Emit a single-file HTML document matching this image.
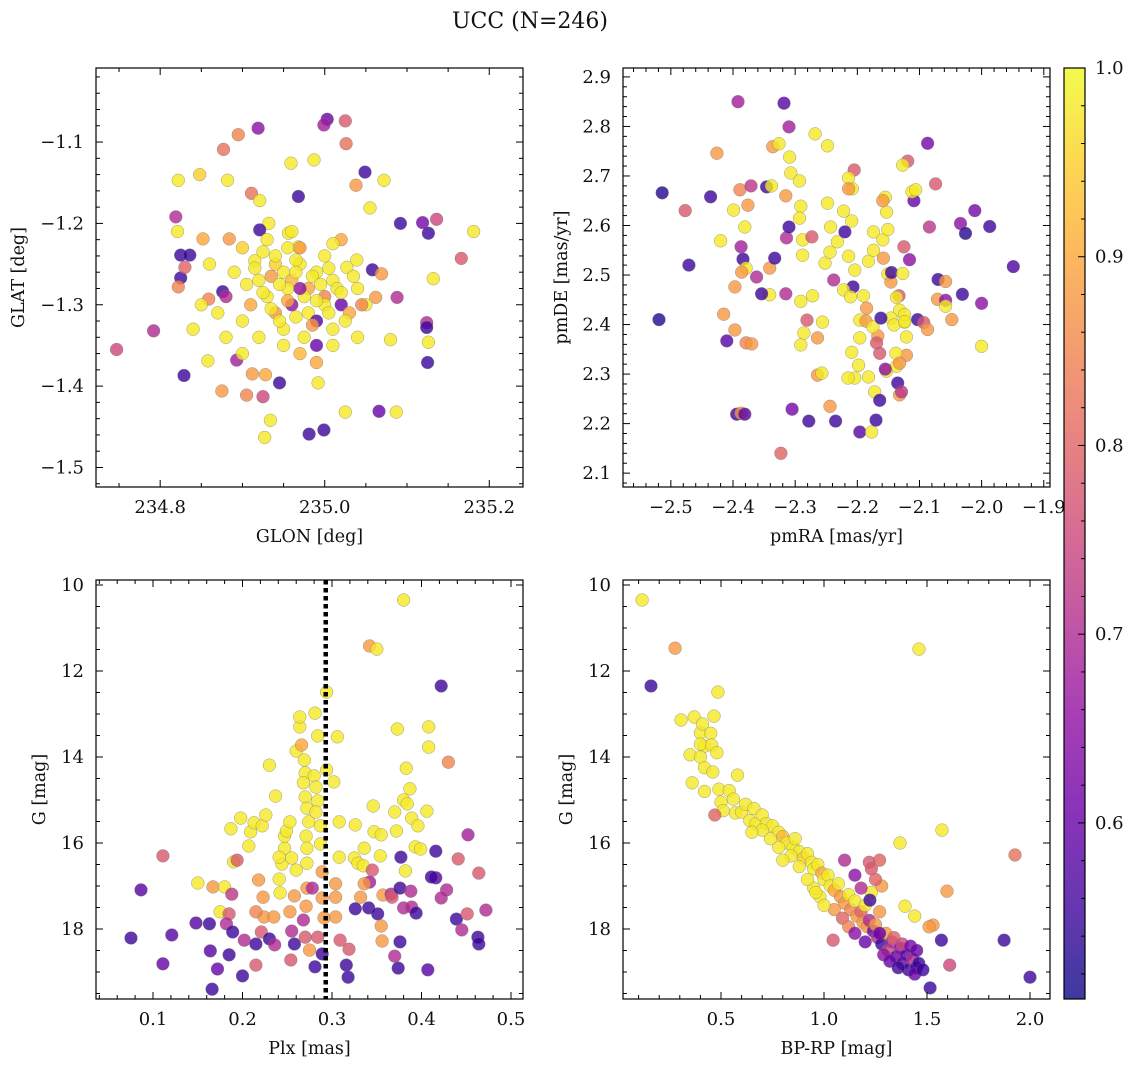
<!DOCTYPE html>
<html>
<head>
<meta charset="utf-8">
<style>
  html,body{margin:0;padding:0;background:#fff;}
  svg{display:block;}
  text{font-family:"DejaVu Serif","Liberation Serif",serif;fill:#111;}
</style>
</head>
<body>
<svg id="fig" width="1136" height="1067" viewBox="0 0 1136 1067" xmlns="http://www.w3.org/2000/svg">
  <rect width="1136" height="1067" fill="#fff"/>
  <text x="530" y="28" font-size="22" text-anchor="middle">UCC (N=246)</text>
</svg>
<script>
// ---------------- DATA ----------------
// Panel 1: GLON / GLAT
const glon = [234.747,234.792,234.829,234.825,234.836,234.825,234.819,234.830,234.822,234.821,234.822,234.848,234.877,234.895,234.919,234.911,234.882,234.852,234.884,234.876,234.859,234.858,234.875,234.905,234.925,234.934,234.927,234.945,234.893,234.912,234.928,234.981,234.999,234.992,234.990,235.025,235.066,235.087,235.003,234.999,235.025,235.026,234.987,234.959,235.049,235.072,235.055,235.038,235.092,235.119,235.136,235.126,235.166,235.181,235.132,235.088,235.124,235.124,235.126,235.125,235.080,235.062,235.058,235.069,235.039,235.027,234.968,234.968,234.921,234.915,234.932,234.956,234.921,
234.94,234.95,234.96,234.97,234.98,234.99,235.00,235.01,235.02,234.93,234.94,234.95,234.96,234.98,234.99,235.01,235.03,235.04,234.92,234.91,234.90,234.89,234.88,234.87,234.86,234.90,234.93,234.97,235.00,235.02,234.95,234.97,234.99,234.92,234.90,235.01,235.04,235.05,234.94,234.96,234.85,234.88,234.84,234.955,234.975,235.015,234.935,235.0,234.965,
234.915,234.925,234.945,234.955,234.965,234.985,234.995,235.005,235.02,235.035,234.945,234.965,234.985,235.005,235.025,234.935,234.975,234.955,234.925,235.01,234.905,234.99,234.97,235.045];
const glat = [-1.355,-1.332,-1.387,-1.239,-1.239,-1.267,-1.192,-1.254,-1.278,-1.210,-1.147,-1.140,-1.109,-1.091,-1.083,-1.163,-1.147,-1.219,-1.219,-1.284,-1.293,-1.369,-1.406,-1.411,-1.413,-1.442,-1.463,-1.396,-1.368,-1.385,-1.386,-1.459,-1.454,-1.396,-1.371,-1.432,-1.431,-1.432,-1.072,-1.079,-1.074,-1.102,-1.122,-1.126,-1.137,-1.147,-1.181,-1.153,-1.200,-1.199,-1.195,-1.212,-1.243,-1.210,-1.268,-1.291,-1.322,-1.328,-1.346,-1.371,-1.343,-1.291,-1.257,-1.262,-1.245,-1.254,-1.167,-1.229,-1.172,-1.246,-1.200,-1.212,-1.208,
-1.25,-1.26,-1.27,-1.25,-1.28,-1.26,-1.29,-1.27,-1.30,-1.29,-1.31,-1.33,-1.30,-1.31,-1.32,-1.33,-1.31,-1.28,-1.27,-1.30,-1.32,-1.26,-1.29,-1.31,-1.25,-1.23,-1.22,-1.23,-1.24,-1.22,-1.35,-1.36,-1.35,-1.34,-1.36,-1.35,-1.34,-1.30,-1.24,-1.21,-1.30,-1.34,-1.33,-1.28,-1.29,-1.28,-1.265,-1.30,-1.245,
-1.255,-1.285,-1.275,-1.295,-1.26,-1.265,-1.275,-1.255,-1.285,-1.265,-1.32,-1.315,-1.325,-1.31,-1.32,-1.305,-1.34,-1.23,-1.235,-1.225,-1.275,-1.295,-1.28,-1.30];
const prob1 = [.75,.70,.55,.55,.55,.55,.70,.80,.85,.98,.98,.95,.82,.85,.65,.82,.98,.90,.88,.55,.85,.98,.88,.85,.75,.98,.98,.55,.68,.88,.90,.55,.55,.98,.90,.98,.60,.98,.60,.68,.78,.82,.98,.98,.55,.98,.98,.88,.55,.62,.75,.55,.78,.98,.98,.70,.70,.55,.98,.55,.98,.88,.55,.88,.98,.98,.55,.98,.98,.98,.98,.98,.55,
.95,.98,.92,.98,.90,.98,.85,.98,.60,.98,.88,.98,.65,.98,.58,.98,.90,.98,.98,.90,.98,.98,.70,.98,.98,.95,.98,.88,.98,.90,.98,.92,.60,.98,.98,.98,.98,.98,.98,.98,.98,.98,.98,.98,.98,.98,.88,.98,.98,
.98,.98,.98,.90,.98,.98,.98,.98,.98,.98,.98,.98,.88,.98,.98,.98,.98,.98,.98,.98,.98,.98,.65,.85];

// Panel 2: pmRA / pmDE
const pmra = [-2.514,-2.519,-2.477,-2.471,-2.426,-2.436,-2.420,-2.410,-2.392,-2.399,-2.389,-2.387,-2.384,-2.379,-2.386,-2.397,-2.415,-2.397,-2.379,-2.370,-2.394,-2.387,-2.381,-2.318,-2.310,-2.305,-2.278,-2.323,-2.381,-2.376,-2.371,-2.362,-2.341,-2.354,-2.341,-2.333,-2.315,-2.314,-2.310,-2.346,-2.338,-2.315,-2.336,-2.326,-2.307,-2.309,-2.268,-2.248,-2.238,-2.293,-2.291,-2.293,-2.288,-2.288,-2.291,-2.291,-2.286,-2.273,-2.252,-2.243,-2.248,-2.244,-2.232,-2.220,-2.209,-2.222,-2.214,-2.204,-2.207,-2.222,-2.211,-2.196,-2.190,-2.182,-2.174,-2.174,-2.159,-2.153,-2.158,-2.151,-2.146,-2.133,-2.132,-2.146,-2.186,-2.185,-2.196,-2.209,-2.198,-2.204,-2.215,-2.264,-2.257,-2.264,-2.256,-2.272,-2.281,-2.244,-2.235,-2.196,-2.182,-2.164,-2.167,-2.175,-2.169,-2.172,-2.177,-2.170,-2.164,-2.153,-2.135,-2.132,-2.129,-2.162,-2.124,-2.121,-2.121,-2.137,-2.138,-2.141,-2.208,-2.205,-2.214,-2.214,
-2.087,-2.119,-2.127,-2.074,-2.109,-2.112,-2.106,-2.155,-2.159,-2.151,-2.084,-2.011,-2.034,-2.026,-1.987,-1.949,-2.031,-2.000,-2.125,-2.116,-2.145,-2.127,-2.070,-2.058,-2.137,-2.071,-2.058,-2.058,-2.048,-2.000,-2.124,-2.124,-2.103,-2.093,-2.087,-2.132,-2.155];
const pmde = [2.666,2.41,2.63,2.52,2.746,2.658,2.569,2.367,2.85,2.631,2.672,2.557,2.532,2.514,2.506,2.476,2.421,2.389,2.363,2.361,2.219,2.221,2.219,2.847,2.799,2.229,2.205,2.14,2.597,2.641,2.68,2.496,2.46,2.462,2.514,2.534,2.462,2.575,2.597,2.678,2.68,2.66,2.759,2.765,2.706,2.738,2.785,2.761,2.49,2.69,2.639,2.615,2.571,2.54,2.447,2.359,2.383,2.577,2.524,2.597,2.645,2.546,2.567,2.587,2.609,2.629,2.538,2.51,2.476,2.47,2.456,2.409,2.458,2.528,2.55,2.587,2.571,2.627,2.534,2.502,2.486,2.458,2.429,2.413,2.407,2.433,2.373,2.344,2.318,2.292,2.292,2.298,2.302,2.373,2.405,2.458,2.409,2.235,2.205,2.183,2.294,2.342,2.377,2.395,2.363,2.264,2.183,2.207,2.247,2.306,2.282,2.258,2.264,2.413,2.405,2.375,2.338,2.316,2.342,2.399,2.674,2.712,2.696,2.674,
2.766,2.73,2.722,2.684,2.65,2.668,2.672,2.657,2.65,2.592,2.597,2.63,2.604,2.584,2.598,2.517,2.461,2.443,2.557,2.531,2.505,2.503,2.491,2.487,2.455,2.451,2.449,2.437,2.41,2.356,2.42,2.406,2.41,2.404,2.39,2.322,2.31];
const prob2 = [.53,.53,.78,.55,.88,.55,.98,.58,.68,.98,.85,.68,.55,.98,.88,.88,.88,.88,.85,.88,.55,.88,.58,.58,.68,.62,.55,.80,.98,.88,.72,.70,.98,.55,.88,.55,.70,.70,.55,.55,.98,.88,.88,.98,.98,.98,.98,.98,.70,.98,.98,.98,.98,.98,.98,.98,.98,.78,.98,.98,.98,.98,.98,.55,.98,.98,.98,.98,.55,.98,.98,.98,.98,.98,.98,.98,.98,.98,.88,.98,.88,.78,.98,.98,.88,.88,.98,.98,.98,.98,.98,.88,.98,.88,.98,.98,.78,.88,.55,.58,.98,.78,.88,.98,.78,.98,.98,.55,.55,.98,.55,.88,.72,.55,.98,.98,.88,.98,.98,.98,.98,.78,.98,.88,
.62,.78,.98,.78,.60,.98,.98,.98,.88,.98,.72,.62,.65,.53,.55,.57,.55,.65,.78,.65,.55,.98,.55,.88,.98,.88,.65,.98,.88,.98,.98,.98,.55,.78,.88,.88,.65];

// Panel 3: Plx / G
const plx = [0.0754,0.0866,0.111,0.111,0.121,0.150,0.148,0.163,0.164,0.166,0.172,0.167,0.175,0.180,0.187,0.190,0.194,0.188,0.185,0.182,0.189,0.185,0.202,0.215,0.200,0.215,0.198,0.209,0.207,0.213,0.222,0.226,0.218,0.223,0.224,0.215,0.221,0.230,0.236,0.235,0.242,0.241,0.244,0.247,0.247,0.241,0.230,0.237,0.249,0.253,0.255,0.258,0.260,0.253,0.255,0.258,0.254,0.260,0.264,0.264,0.266,0.269,0.270,0.268,0.270,0.272,0.274,0.271,0.272,0.272,0.272,0.271,0.268,0.270,0.275,0.281,0.278,0.280,0.284,0.281,0.282,0.284,0.282,0.287,0.287,0.289,0.289,0.291,0.284,0.289,0.294,0.294,0.306,0.302,0.308,0.308,0.304,0.304,0.304,0.309,0.316,0.318,0.319,0.326,0.325,0.326,0.329,0.335,0.336,0.342,0.350,0.346,0.347,0.355,0.354,0.345,0.342,0.336,0.332,0.341,0.351,0.355,0.357,0.366,0.356,0.367,0.373,0.370,0.372,0.380,0.383,0.387,0.384,0.389,0.396,0.393,0.399,0.377,0.382,0.376,0.380,0.388,0.389,0.376,0.370,0.374,0.394,0.407,0.406,0.408,0.408,0.422,0.430,0.441,0.452,0.416,0.416,0.411,0.428,0.422,0.439,0.451,0.464,0.472,0.445,0.463,0.464,0.380];
const gmag3 = [18.21,17.09,16.30,18.81,18.14,16.93,17.86,17.88,18.51,19.40,18.93,17.02,17.60,17.02,15.67,16.44,16.40,17.19,17.65,17.88,18.07,18.60,18.26,18.35,19.09,18.84,15.42,15.74,16.07,15.53,15.60,15.35,16.86,17.26,17.72,17.60,18.07,18.23,18.37,17.72,17.16,16.84,16.49,16.12,15.84,16.33,14.19,14.91,15.72,15.51,16.35,17.23,16.63,17.60,18.05,18.35,18.72,13.86,13.30,13.07,13.72,14.07,14.37,14.60,14.93,15.19,15.51,15.84,16.12,16.47,17.05,17.47,17.79,18.19,18.49,18.88,17.05,14.44,13.51,12.98,14.70,15.02,15.28,15.60,16.02,16.67,17.28,17.74,18.19,18.58,12.49,14.30,13.53,14.58,15.51,16.33,16.95,17.26,17.72,18.26,18.84,19.12,18.47,17.53,16.35,15.58,16.47,16.53,16.12,11.42,11.49,15.14,15.74,15.81,16.30,16.63,16.91,16.95,17.26,17.51,17.65,17.93,17.21,17.19,18.28,17.26,13.35,15.28,15.72,15.00,14.26,14.74,15.09,15.42,15.60,16.09,16.14,16.33,16.65,17.05,17.51,17.12,17.49,18.30,18.63,18.91,17.63,18.95,15.26,13.77,13.30,12.35,14.12,16.37,15.81,16.19,16.81,16.79,17.09,17.28,17.77,17.65,16.70,17.56,18.02,18.19,18.35,10.35];
const prob3 = [.55,.58,.78,.60,.58,.98,.58,.55,.58,.55,.60,.88,.98,.98,.98,.98,.78,.72,.78,.70,.55,.55,.70,.55,.55,.78,.98,.98,.98,.98,.98,.98,.88,.88,.88,.85,.78,.55,.70,.88,.98,.98,.98,.98,.98,.98,.98,.98,.98,.98,.98,.88,.98,.88,.70,.55,.78,.98,.98,.98,.90,.98,.98,.98,.98,.98,.98,.98,.98,.98,.88,.88,.70,.78,.88,.55,.70,.98,.98,.98,.98,.98,.98,.98,.98,.88,.88,.88,.78,.55,.98,.98,.98,.98,.98,.98,.88,.88,.88,.78,.55,.55,.78,.55,.98,.98,.98,.98,.98,.88,.98,.98,.98,.98,.98,.78,.68,.88,.88,.55,.55,.88,.88,.70,.88,.78,.98,.98,.98,.98,.98,.98,.98,.98,.98,.98,.98,.55,.98,.55,.70,.70,.70,.55,.70,.55,.55,.58,.98,.98,.98,.55,.85,.78,.68,.55,.58,.55,.70,.70,.55,.78,.78,.70,.70,.55,.55,.98];
const plxMedian = 0.293;

// Panel 4: BP-RP / G
const bprp = [0.117,0.16,0.277,1.461,0.306,0.485,0.37,0.35,0.40,0.41,0.466,0.42,0.45,0.40,0.455,0.40,0.48,0.42,0.46,0.42,0.49,0.54,0.50,0.51,0.57,0.60,0.47,0.56,0.64,0.67,0.36,0.58,0.62,0.66,0.70,0.72,0.75,0.78,0.80,0.82,0.85,0.86,0.88,0.90,0.92,0.94,0.95,0.97,0.99,1.00,1.02,1.03,1.05,1.07,1.08,1.10,1.12,1.13,1.15,1.16,1.18,1.19,1.20,1.21,1.22,1.23,1.24,1.25,1.26,1.27,1.28,1.30,1.31,1.33,1.35,1.37,1.38,1.40,1.41,1.43,1.45,1.46,1.44,1.515,1.61,1.573,1.369,1.927,1.597,1.393,1.529,1.57,1.044,1.874,2.0,1.223,1.22,1.23,1.27,1.10,1.15,1.28,1.25,1.18,0.98,0.95,0.92,0.88,0.84,0.80,0.78,0.74,0.70,0.65,1.05,1.09,1.12,1.15,1.20,1.29,1.32,1.36,1.00,0.96,1.27,1.34,1.38,1.42,1.45,1.48,1.51,1.44];
const gmag4 = [10.35,12.35,11.47,11.49,13.14,12.49,13.07,13.95,13.44,13.23,13.05,13.75,13.45,13.70,13.72,14.00,13.90,14.25,14.35,14.80,14.75,14.78,15.05,15.25,15.30,15.28,15.35,14.98,15.48,15.55,14.60,14.42,15.10,15.20,15.35,15.55,15.60,15.75,15.85,16.00,16.10,15.90,16.20,16.35,16.25,16.45,16.60,16.50,16.70,16.85,16.75,17.00,17.10,16.95,17.25,17.40,17.20,17.55,17.35,17.70,17.60,17.85,17.45,17.95,17.80,17.15,18.05,17.90,18.20,17.60,18.35,18.10,18.50,18.30,18.65,18.45,18.80,18.60,18.95,18.70,18.90,18.80,19.05,19.37,18.84,15.70,16.00,16.28,17.12,17.47,17.91,18.26,18.26,18.26,19.12,17.33,16.45,16.60,16.40,16.40,16.75,17.00,16.85,17.05,17.25,17.05,16.85,16.55,16.30,16.40,16.10,15.90,15.70,15.75,17.55,17.75,17.95,18.10,18.30,18.60,18.75,18.90,17.45,17.15,18.10,18.20,18.35,18.40,18.50,18.95,17.95,17.70];
const prob4 = [.98,.55,.88,.98,.98,.98,.98,.98,.98,.98,.98,.98,.98,.98,.98,.98,.98,.98,.98,.98,.98,.98,.98,.98,.98,.98,.80,.98,.98,.98,.98,.98,.98,.98,.98,.98,.98,.98,.92,.98,.98,.98,.98,.95,.98,.98,.98,.98,.90,.98,.98,.98,.90,.98,.88,.88,.98,.85,.98,.88,.80,.88,.98,.88,.70,.98,.60,.88,.70,.88,.55,.88,.75,.70,.60,.65,.60,.58,.55,.70,.55,.55,.60,.55,.75,.98,.98,.82,.88,.98,.88,.55,.78,.55,.55,.55,.78,.78,.80,.70,.65,.88,.80,.70,.98,.98,.98,.98,.98,.98,.98,.98,.98,.98,.88,.80,.85,.65,.60,.65,.60,.55,.98,.98,.60,.80,.75,.62,.60,.55,.88,.98];

// Tick values / labels
const p1XTicks = [234.8, 235.0, 235.2];
const p1XLabels = ["234.8", "235.0", "235.2"];
const p1YTicks = [-1.5, -1.4, -1.3, -1.2, -1.1];
const p1YLabels = ["\u22121.5", "\u22121.4", "\u22121.3", "\u22121.2", "\u22121.1"];
const p2XTicks = [-2.5, -2.4, -2.3, -2.2, -2.1, -2.0, -1.9];
const p2XLabels = ["\u22122.5", "\u22122.4", "\u22122.3", "\u22122.2", "\u22122.1", "\u22122.0", "\u22121.9"];
const p2YTicks = [2.1, 2.2, 2.3, 2.4, 2.5, 2.6, 2.7, 2.8, 2.9];
const p2YLabels = ["2.1", "2.2", "2.3", "2.4", "2.5", "2.6", "2.7", "2.8", "2.9"];
const p3XTicks = [0.1, 0.2, 0.3, 0.4, 0.5];
const p3XLabels = ["0.1", "0.2", "0.3", "0.4", "0.5"];
const gTicks = [10, 12, 14, 16, 18];
const gLabels = ["10", "12", "14", "16", "18"];
const p4XTicks = [0.5, 1.0, 1.5, 2.0];
const p4XLabels = ["0.5", "1.0", "1.5", "2.0"];
const cbTicks = [0.6, 0.7, 0.8, 0.9, 1.0];
const cbLabels = ["0.6", "0.7", "0.8", "0.9", "1.0"];
const cbRange = [0.5067, 1.0];

// ---------------- RENDER ----------------
const NS = "http://www.w3.org/2000/svg";
const svg = document.getElementById('fig');
function mk(tag, attrs, parent) {
  const e = document.createElementNS(NS, tag);
  for (const k in attrs) e.setAttribute(k, attrs[k]);
  (parent || svg).appendChild(e);
  return e;
}
const plasmaStops = [[13,8,135],[65,4,157],[106,0,168],[143,13,164],[177,42,144],[204,71,120],[225,100,98],[242,132,75],[252,166,54],[252,206,37],[240,249,33]];
function plasma(t) {
  t = Math.max(0, Math.min(1, t));
  const f = t * 10, i = Math.min(9, Math.floor(f)), r = f - i;
  const a = plasmaStops[i], b = plasmaStops[i + 1];
  return `rgb(${Math.round(a[0]+(b[0]-a[0])*r)},${Math.round(a[1]+(b[1]-a[1])*r)},${Math.round(a[2]+(b[2]-a[2])*r)})`;
}
function norm(p) { return (p - cbRange[0]) / (cbRange[1] - cbRange[0]); }

function panel(cfg) {
  const g = mk('g', {});
  
  
  const {x0, x1, y0, y1, xlim, ylim, invertY} = cfg;
  const sx = v => x0 + (v - xlim[0]) / (xlim[1] - xlim[0]) * (x1 - x0);
  const sy = invertY ? (v => y0 + (v - ylim[0]) / (ylim[1] - ylim[0]) * (y1 - y0))
                     : (v => y1 - (v - ylim[0]) / (ylim[1] - ylim[0]) * (y1 - y0));
  const cid = 'clip-' + cfg.name;
  const cp = mk('clipPath', {id: cid}, g);
  mk('rect', {x: x0, y: y0, width: x1 - x0, height: y1 - y0}, cp);
  const pts = mk('g', {'clip-path': `url(#${cid})`}, g);
  
  
  for (let i = 0; i < cfg.xs.length; i++) {
    const c = mk('circle', {cx: sx(cfg.xs[i]).toFixed(1), cy: sy(cfg.ys[i]).toFixed(1), r: 6.4,
      fill: plasma(norm(cfg.ps[i])), 'fill-opacity': 0.8, stroke: '#777', 'stroke-width': 0.5, 'stroke-opacity': 0.7}, pts);
    
    
  }
  if (cfg.vline !== undefined) {
    const l = mk('line', {x1: sx(cfg.vline), x2: sx(cfg.vline), y1: y0, y2: y1, stroke: '#000', 'stroke-width': 4.5, 'stroke-dasharray': '4.5,3.5'}, pts);
    
    
  }
  mk('rect', {x: x0, y: y0, width: x1 - x0, height: y1 - y0, fill: 'none', stroke: '#000', 'stroke-width': 1.2}, g);
  const mt = (a, b, step, majors) => {
    const out = []; const s = Math.ceil(a / step - 1e-9);
    for (let k = s; k * step <= b + 1e-9; k++) {
      const v = k * step;
      if (!majors.some(m => Math.abs(m - v) < step / 10)) out.push(v);
    }
    return out;
  };
  const tickG = mk('g', {stroke: '#000', 'stroke-width': 1}, g);
  cfg.xTicks.forEach(v => { const X = sx(v);
    mk('line', {x1: X, x2: X, y1: y1, y2: y1 - 7}, tickG); mk('line', {x1: X, x2: X, y1: y0, y2: y0 + 7}, tickG); });
  mt(xlim[0], xlim[1], cfg.xMinor, cfg.xTicks).forEach(v => { const X = sx(v);
    mk('line', {x1: X, x2: X, y1: y1, y2: y1 - 4}, tickG); mk('line', {x1: X, x2: X, y1: y0, y2: y0 + 4}, tickG); });
  const yl = [Math.min(ylim[0], ylim[1]), Math.max(ylim[0], ylim[1])];
  cfg.yTicks.forEach(v => { const Y = sy(v);
    mk('line', {x1: x0, x2: x0 + 7, y1: Y, y2: Y}, tickG); mk('line', {x1: x1, x2: x1 - 7, y1: Y, y2: Y}, tickG); });
  mt(yl[0], yl[1], cfg.yMinor, cfg.yTicks).forEach(v => { const Y = sy(v);
    mk('line', {x1: x0, x2: x0 + 4, y1: Y, y2: Y}, tickG); mk('line', {x1: x1, x2: x1 - 4, y1: Y, y2: Y}, tickG); });
  cfg.xTicks.forEach((v, i) => {
    const t = mk('text', {x: sx(v), y: y1 + 26, 'font-size': 18, 'text-anchor': 'middle'}, g);
    t.textContent = cfg.xLabels[i];
    
    
  });
  cfg.yTicks.forEach((v, i) => {
    const t = mk('text', {x: x0 - 12, y: sy(v) + 6, 'font-size': 18, 'text-anchor': 'end'}, g);
    t.textContent = cfg.yLabels[i];
    
    
  });
  const xt = mk('text', {x: (x0 + x1) / 2, y: y1 + 55, 'font-size': 17.5, 'text-anchor': 'middle'}, g);
  xt.textContent = cfg.xlabel;
  
  
  const yt = mk('text', {x: 0, y: 0, 'font-size': 17.5, 'text-anchor': 'middle',
    transform: `translate(${cfg.ylabelX},${(y0 + y1) / 2}) rotate(-90)`}, g);
  yt.textContent = cfg.ylabel;
  
  
}

panel({name: 'panel-glon-glat', x0: 96, x1: 523, y0: 68, y1: 487, xlim: [234.722, 235.241], ylim: [-1.524, -1.009],
  xs: glon, ys: glat, ps: prob1, xTicks: p1XTicks, xLabels: p1XLabels, xMinor: 0.05,
  yTicks: p1YTicks, yLabels: p1YLabels, yMinor: 0.02, xlabel: 'GLON [deg]', ylabel: 'GLAT [deg]', ylabelX: 24});
panel({name: 'panel-pm', x0: 623, x1: 1050, y0: 68, y1: 487, xlim: [-2.577, -1.890], ylim: [2.072, 2.918],
  xs: pmra, ys: pmde, ps: prob2, xTicks: p2XTicks, xLabels: p2XLabels, xMinor: 0.02,
  yTicks: p2YTicks, yLabels: p2YLabels, yMinor: 0.02, xlabel: 'pmRA [mas/yr]', ylabel: 'pmDE [mas/yr]', ylabelX: 567});
panel({name: 'panel-plx-g', x0: 96, x1: 523, y0: 580, y1: 999, xlim: [0.0363, 0.5134], ylim: [9.884, 19.628], invertY: true,
  xs: plx, ys: gmag3, ps: prob3, xTicks: p3XTicks, xLabels: p3XLabels, xMinor: 0.02,
  yTicks: gTicks, yLabels: gLabels, yMinor: 0.5, xlabel: 'Plx [mas]', ylabel: 'G [mag]', ylabelX: 45, vline: plxMedian});
panel({name: 'panel-cmd', x0: 623, x1: 1050, y0: 580, y1: 999, xlim: [0.0243, 2.097], ylim: [9.884, 19.628], invertY: true,
  xs: bprp, ys: gmag4, ps: prob4, xTicks: p4XTicks, xLabels: p4XLabels, xMinor: 0.1,
  yTicks: gTicks, yLabels: gLabels, yMinor: 0.5, xlabel: 'BP-RP [mag]', ylabel: 'G [mag]', ylabelX: 572});

(function () {
  const cx0 = 1064, cx1 = 1085, cy0 = 68, cy1 = 999;
  const g = mk('g', {});
  
  
  const defs = mk('defs', {}, g);
  const lg = mk('linearGradient', {id: 'cbgrad', x1: 0, y1: 1, x2: 0, y2: 0}, defs);
  for (let k = 0; k <= 20; k++) {
    mk('stop', {offset: k / 20, 'stop-color': plasma(k / 20), 'stop-opacity': 0.8}, lg);
  }
  mk('rect', {x: cx0, y: cy0, width: cx1 - cx0, height: cy1 - cy0, fill: 'url(#cbgrad)', stroke: '#000', 'stroke-width': 1.2}, g);
  const sy = v => cy1 - (v - cbRange[0]) / (cbRange[1] - cbRange[0]) * (cy1 - cy0);
  for (let k = 26; k <= 50; k++) {
    const v = k * 0.02;
    if (v < cbRange[0] || v > cbRange[1] + 1e-9) continue;
    const major = cbTicks.some(m => Math.abs(m - v) < 1e-6);
    mk('line', {x1: cx1, x2: cx1 - (major ? 7 : 4), y1: sy(v), y2: sy(v), stroke: '#000', 'stroke-width': 1}, g);
  }
  cbTicks.forEach((v, i) => {
    const t = mk('text', {x: 1095, y: sy(v) + 6, 'font-size': 18}, g);
    t.textContent = cbLabels[i];
    
    
  });
})();
</script>
</body>
</html>
